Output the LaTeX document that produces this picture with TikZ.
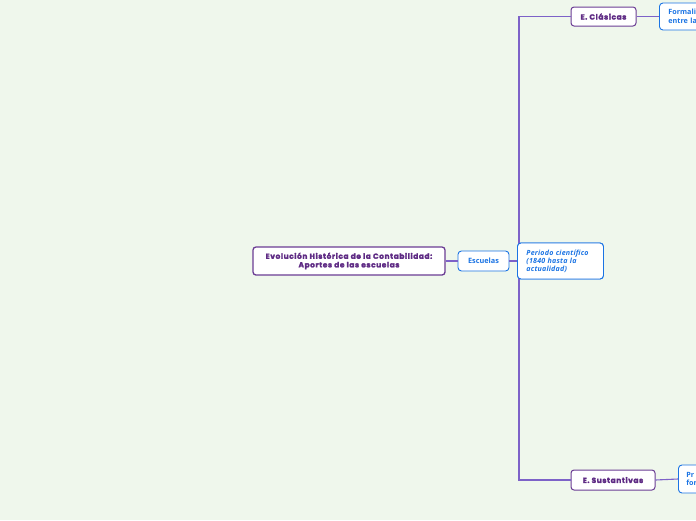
\documentclass[tikz,border=0pt]{standalone}
\usepackage{fontspec}
\setmainfont{Open Sans}
\newfontfamily\perfont[LetterSpace=3]{Open Sans}
\newfontfamily\titlefont[LetterSpace=8,BoldFeatures={FakeBold=2.4}]{Poppins}
\definecolor{bg}{HTML}{EFF7EC}
\definecolor{purp}{HTML}{5E2A84}
\definecolor{purpborder}{HTML}{6B3D94}
\definecolor{linec}{HTML}{7D62C8}
\definecolor{bluec}{HTML}{1B74E4}
\begin{document}
\begin{tikzpicture}[x=1pt,y=-1pt,
  purpbox/.style={draw=purpborder, line width=1pt, fill=white, rounded corners=3pt, text=purp, font=\titlefont\bfseries\fontsize{7.4}{8.6}\selectfont, inner sep=0pt, align=center},
  bluebox/.style={draw=bluec, line width=0.9pt, fill=white, rounded corners=3.5pt, text=bluec, inner sep=0pt},
  perbox/.style={bluebox, minimum width=86pt, minimum height=36pt, anchor=west, inner xsep=9pt, text width=68pt, align=left, font=\perfont\bfseries\itshape\fontsize{7.1}{7.9}\selectfont},
  conn/.style={draw=linec, line width=1.1pt}]
\useasboundingbox (0,0) rectangle (696,520);
\clip (0,0) rectangle (696,520);
\fill[bg] (0,0) rectangle (696,520);
\coordinate (fork) at (519,261);
% nodes
\node[purpbox, minimum width=192pt, minimum height=28pt, line width=1.3pt] (main) at (349,261)
  {Evolución Histórica de la Contabilidad:\\Aportes de las escuelas};
\node[bluebox, minimum width=51pt, minimum height=20pt, font=\bfseries\fontsize{7.3}{8}\selectfont] (esc) at (483.5,261) {Escuelas};
\node[perbox] (per) at (517,261) {Periodo científico\\(1840 hasta la\\actualidad)};
\node[purpbox, minimum width=65pt, minimum height=19pt] (cla) at (603.5,16.5) {E. Clásicas};
\node[purpbox, minimum width=84pt, minimum height=20pt] (sus) at (613,480) {E. Sustantivas};
\node[bluebox, anchor=west, minimum width=90pt, minimum height=27pt, inner xsep=9pt, text width=72pt, align=left, font=\bfseries\fontsize{7.2}{8.5}\selectfont] (for) at (659,16.5) {Formali\\entre la};
\node[bluebox, anchor=west, minimum width=90pt, minimum height=28pt, inner xsep=8pt, text width=74pt, align=left, font=\bfseries\fontsize{7.2}{8.5}\selectfont] (pro) at (678,479) {Pr\\for};
% connectors
\draw[conn] (main.east) -- (esc.west);
\draw[conn] (esc.east) -- (per.west);
\draw[conn] (cla.west) -| (fork);
\draw[conn] (fork) |- (sus.west);
\draw[conn] (cla.east) -- (for.west);
\draw[conn] (sus.east) -- (pro.west);
% periodo node drawn again on top of the fork line
\node[perbox] at (517,261) {Periodo científico\\(1840 hasta la\\actualidad)};
\end{tikzpicture}
\end{document}
